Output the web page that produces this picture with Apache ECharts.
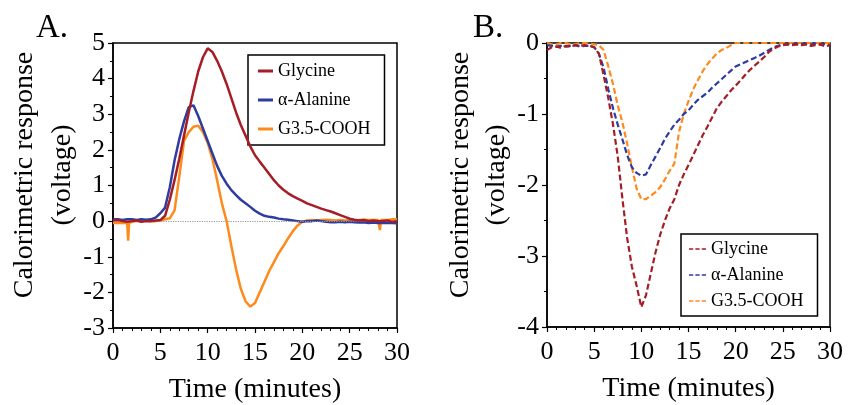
<!DOCTYPE html>
<html><head><meta charset="utf-8">
<script src="https://cdn.jsdelivr.net/npm/echarts@6/dist/echarts.min.js"></script>
<style>html,body{margin:0;padding:0;background:#fff}#c{width:848px;height:405px}</style>
</head><body><div id="c"></div>
<script>
// ---------- Data ----------
const seriesNames = ['Glycine', 'α-Alanine', 'G3.5-COOH'];
const xTicks = [0, 5, 10, 15, 20, 25, 30];
const yTicksA = [-3, -2, -1, 0, 1, 2, 3, 4, 5];
const yTicksB = [-4, -3, -2, -1, 0];

// Panel A time points (minutes)
const timeA = [0,0.5,1,1.5,1.6,1.7,2,2.5,3,3.5,4,4.5,5,5.5,6,6.5,7,7.5,8,8.5,9,9.5,10,10.5,11,11.5,12,12.5,13,13.5,14,14.5,15,15.5,16,16.5,17,17.5,18,18.5,19,19.5,20,20.5,21,21.5,22,22.5,23,23.5,24,24.5,25,25.5,26,26.5,27,27.5,28,28.2,28.3,28.5,29,29.5,30];
const glycineA = [0.02,0.03,0,-0.02,-0.02,-0.03,0,0.02,-0.02,0,0,0.02,0.03,0.15,0.6,1.15,1.75,2.4,3.05,3.65,4.2,4.6,4.85,4.75,4.5,4.2,3.85,3.45,3.05,2.7,2.4,2.1,1.85,1.67,1.5,1.32,1.15,1.0,0.88,0.78,0.7,0.63,0.57,0.5,0.45,0.4,0.35,0.31,0.27,0.22,0.17,0.12,0.07,0.04,0.02,0.03,0,0.02,0,-0.02,0,0,0.02,-0.02,0];
const alanineA = [0.05,0.05,0.03,0.05,0.05,0.04,0.05,0.03,0.05,0.04,0.05,0.1,0.22,0.38,0.95,1.7,2.3,2.8,3.2,3.25,2.95,2.6,2.25,1.9,1.55,1.27,1.05,0.87,0.73,0.6,0.5,0.4,0.29,0.21,0.15,0.12,0.1,0.07,0.05,0.04,0.02,0,-0.02,0,0,0.02,0,-0.02,-0.03,-0.03,-0.02,-0.03,-0.02,-0.03,-0.04,-0.03,-0.05,-0.04,-0.05,-0.05,-0.05,-0.04,-0.05,-0.05,-0.06];
const g35A = [-0.05,-0.05,-0.05,-0.05,-0.55,-0.05,-0.02,0,0,0.02,0,0,0.02,0.05,0.08,0.3,1.25,2.25,2.5,2.65,2.68,2.5,2.2,1.75,1.15,0.5,0,-0.7,-1.35,-1.9,-2.25,-2.4,-2.3,-2.0,-1.7,-1.4,-1.15,-0.9,-0.7,-0.48,-0.28,-0.12,-0.02,0.02,0.03,0.02,0.03,0.04,0.03,0.02,0.03,0.02,0.03,0.02,0.03,0.04,0.03,0.03,0.03,-0.25,0.03,0.04,0.03,0.05,0.05];

// Panel B time points (minutes)
const timeB = [0,0.5,1,1.5,2,2.5,3,3.5,4,4.5,5,5.5,6,6.5,7,7.5,8,8.5,9,9.5,10,10.5,11,11.5,12,12.5,13,13.5,14,14.5,15,15.5,16,16.5,17,17.5,18,18.5,19,19.5,20,20.5,21,21.5,22,22.5,23,23.5,24,24.5,25,25.5,26,26.5,27,27.5,28,28.5,29,29.5,30];
const glycineB = [-0.1,-0.06,-0.05,-0.07,-0.04,-0.05,-0.03,-0.04,-0.03,-0.04,-0.06,-0.15,-0.45,-0.78,-1.15,-1.6,-2.2,-2.75,-3.15,-3.42,-3.72,-3.55,-3.25,-2.95,-2.7,-2.5,-2.33,-2.2,-2.0,-1.85,-1.72,-1.58,-1.44,-1.3,-1.18,-1.05,-0.92,-0.83,-0.75,-0.67,-0.6,-0.53,-0.45,-0.38,-0.32,-0.26,-0.2,-0.13,-0.08,-0.05,-0.03,-0.02,-0.03,-0.02,-0.03,-0.02,-0.04,-0.03,-0.02,-0.05,-0.03];
const alanineB = [-0.03,-0.04,-0.05,-0.04,-0.05,-0.04,-0.03,-0.05,-0.04,-0.04,-0.06,-0.15,-0.35,-0.65,-0.92,-1.15,-1.36,-1.58,-1.75,-1.83,-1.87,-1.85,-1.72,-1.6,-1.48,-1.35,-1.25,-1.15,-1.08,-1.0,-0.95,-0.87,-0.8,-0.75,-0.7,-0.63,-0.57,-0.51,-0.45,-0.39,-0.33,-0.3,-0.27,-0.24,-0.21,-0.18,-0.14,-0.1,-0.06,-0.04,-0.02,-0.02,-0.01,-0.02,-0.01,-0.02,-0.02,-0.01,-0.02,-0.01,-0.03];
const g35B = [0,-0.02,-0.02,0,0,-0.02,-0.02,0,0,-0.01,-0.02,-0.03,-0.1,-0.33,-0.58,-0.88,-1.12,-1.42,-1.75,-2.05,-2.2,-2.2,-2.15,-2.1,-2.03,-1.92,-1.8,-1.7,-1.25,-1.0,-0.82,-0.65,-0.52,-0.4,-0.3,-0.22,-0.15,-0.1,-0.07,-0.03,0,0,0,0,0,0,0,0,0,0,0,0,0,0,0,0,0,0,0,0,0];

// ---------- Chart ----------
const colors = ['#a51d25', '#2e3ba0', '#ff8a1c'];
const FONT = "'Liberation Serif','Times New Roman',serif";
const zip = (t, v) => t.map((x, i) => [x, v[i]]);
const SOLID_ICON = 'rect';
const DASH_ICON = 'path://M0,0h6v2h-6z M9,0h6v2h-6z M18,0h6v2h-6z';

function xAxis(gi) {
  return {
    gridIndex: gi, type: 'value', min: xTicks[0], max: xTicks[xTicks.length - 1], interval: 5,
    name: 'Time (minutes)', nameLocation: 'middle', nameGap: 48,
    nameTextStyle: { fontFamily: FONT, fontSize: 28, color: '#000' },
    axisLine: { onZero: false, lineStyle: { color: '#000', width: 1.5 } },
    axisTick: { length: 5, lineStyle: { color: '#000', width: 1.2 } },
    minorTick: { show: true, splitNumber: 5, length: 3, lineStyle: { color: '#000', width: 1 } },
    axisLabel: { fontFamily: FONT, fontSize: 26, color: '#000', margin: 12 },
    splitLine: { show: false }
  };
}
function yAxis(gi, ticks) {
  return {
    gridIndex: gi, type: 'value', min: ticks[0], max: ticks[ticks.length - 1], interval: 1,
    axisLine: { onZero: false, lineStyle: { color: '#000', width: 1.5 } },
    axisTick: { length: 5, lineStyle: { color: '#000', width: 1.2 } },
    minorTick: { show: true, splitNumber: 2, length: 3, lineStyle: { color: '#000', width: 1 } },
    axisLabel: { fontFamily: FONT, fontSize: 26, color: '#000', margin: 8 },
    splitLine: { show: false }
  };
}
function legend(left, top, names, gap, icon, iw, ih, pad) {
  return {
    left: left, top: top, orient: 'vertical',
    data: names.map(n => ({ name: n, icon: icon })),
    itemWidth: iw, itemHeight: ih, itemGap: gap,
    padding: pad, borderColor: '#000', borderWidth: 1.5,
    selectedMode: false,
    formatter: n => n.replace(/ B$/, ''),
    textStyle: { fontFamily: FONT, fontSize: 18, color: '#000', lineHeight: 18 }
  };
}

const sA = [glycineA, alanineA, g35A].map((v, i) => ({
  name: seriesNames[i], type: 'line', xAxisIndex: 0, yAxisIndex: 0,
  data: zip(timeA, v), showSymbol: false, symbol: 'none', z: 3 + (2 - i),
  lineStyle: { color: colors[i], width: 2.5 }, itemStyle: { color: colors[i] },
  animation: false
}));
sA[0].markLine = {
  silent: true, symbol: 'none', label: { show: false },
  lineStyle: { color: '#999', type: 'dotted', width: 1.2 },
  data: [{ yAxis: 0 }]
};
const sB = [glycineB, alanineB, g35B].map((v, i) => ({
  name: seriesNames[i] + ' B', type: 'line', xAxisIndex: 1, yAxisIndex: 1,
  data: zip(timeB, v), showSymbol: false, symbol: 'none', z: 3 + (2 - i),
  lineStyle: { color: colors[i], width: 2.2, type: [6, 3] }, itemStyle: { color: colors[i] },
  animation: false
}));

const chart = echarts.init(document.getElementById('c'), null, { renderer: 'canvas' });
chart.setOption({
  animation: false,
  grid: [
    { left: 113, top: 43, width: 284, height: 285, outerBoundsMode: 'none', containLabel: false, show: true, borderColor: '#000', borderWidth: 1.5, backgroundColor: 'transparent' },
    { left: 547, top: 43, width: 283, height: 284, outerBoundsMode: 'none', containLabel: false, show: true, borderColor: '#000', borderWidth: 1.5, backgroundColor: 'transparent' }
  ],
  xAxis: [xAxis(0), xAxis(1)],
  yAxis: [yAxis(0, yTicksA), yAxis(1, yTicksB)],
  legend: [
    legend(248, 55, seriesNames, 11, SOLID_ICON, 15, 3, [7, 14, 7, 10]),
    legend(681, 234, seriesNames.map(n => n + ' B'), 8, DASH_ICON, 17, 2, [6, 14, 6, 8])
  ],
  graphic: [
    { type: 'text', x: 36, y: 12, style: { text: 'A.', font: '33px ' + FONT, fill: '#000' } },
    { type: 'text', x: 473, y: 12, style: { text: 'B.', font: '33px ' + FONT, fill: '#000' } },
    { type: 'text', x: 25, y: 175, rotation: Math.PI / 2, style: { text: 'Calorimetric response', font: '28px ' + FONT, fill: '#000', align: 'center', verticalAlign: 'middle' } },
    { type: 'text', x: 63, y: 175, rotation: Math.PI / 2, style: { text: '(voltage)', font: '28px ' + FONT, fill: '#000', align: 'center', verticalAlign: 'middle' } },
    { type: 'text', x: 461, y: 175, rotation: Math.PI / 2, style: { text: 'Calorimetric response', font: '28px ' + FONT, fill: '#000', align: 'center', verticalAlign: 'middle' } },
    { type: 'text', x: 497, y: 175, rotation: Math.PI / 2, style: { text: '(voltage)', font: '28px ' + FONT, fill: '#000', align: 'center', verticalAlign: 'middle' } }
  ],
  series: sA.concat(sB)
});
</script>
</body></html>
